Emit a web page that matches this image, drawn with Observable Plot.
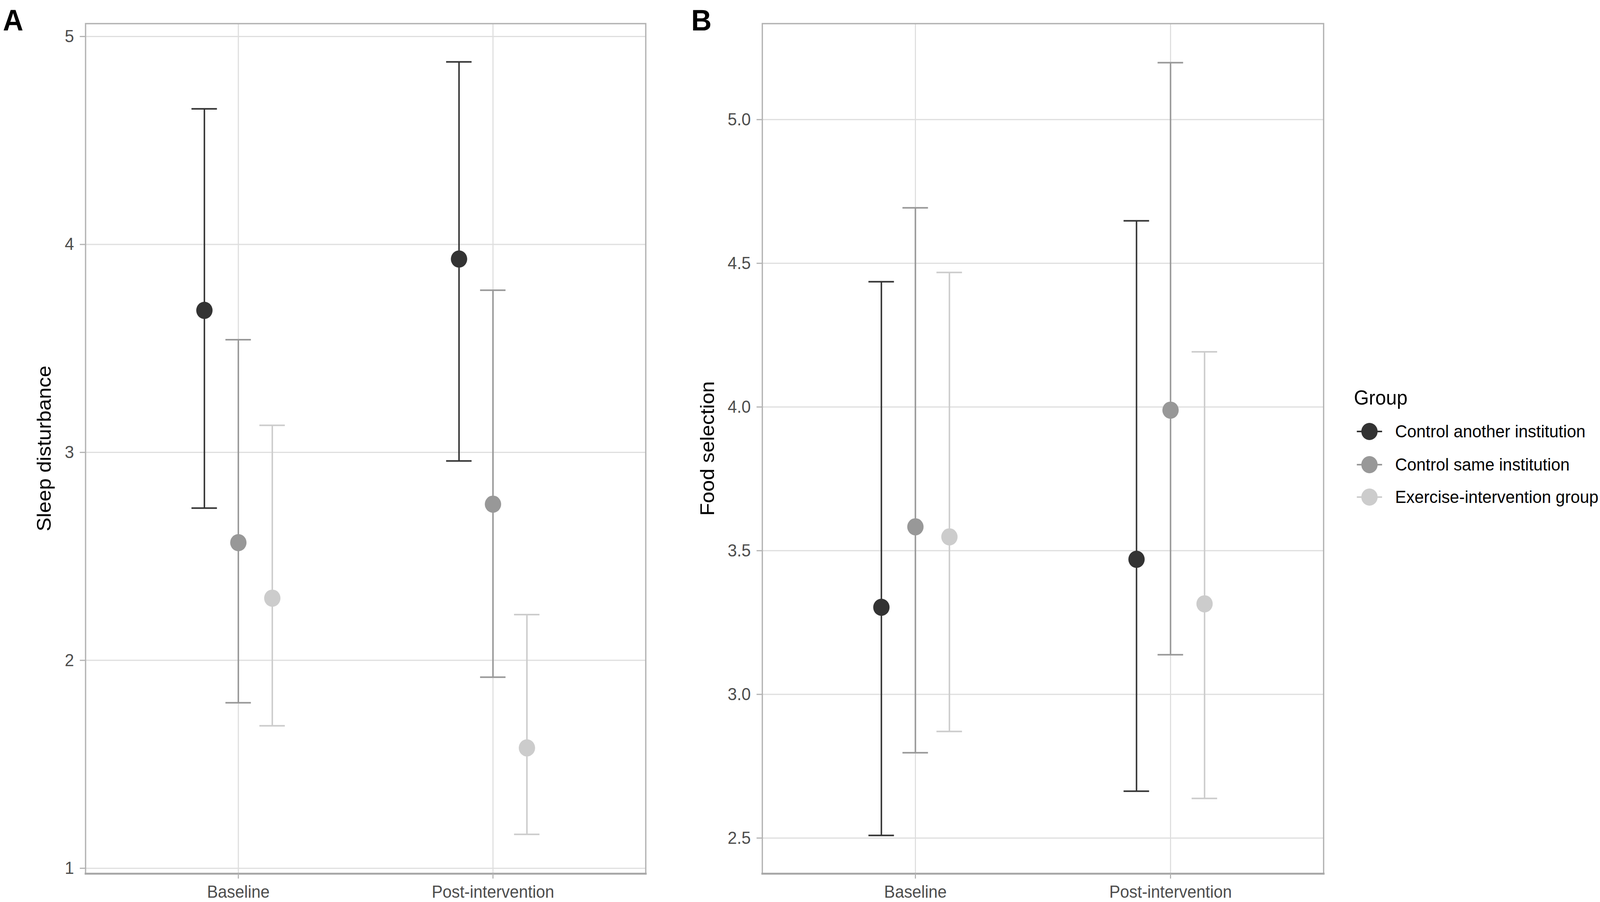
<!DOCTYPE html>
<html>
<head>
<meta charset="utf-8">
<script src="https://cdn.jsdelivr.net/npm/d3@7"></script>
<script src="https://cdn.jsdelivr.net/npm/@observablehq/plot@0.6"></script>
<style>
  html, body { margin: 0; padding: 0; background: #ffffff; overflow: hidden; }
  #root { position: absolute; left: 0; top: 0; width: 4310px; height: 2310px; background: #fff; font-family: "Liberation Sans", Arial, sans-serif; overflow: hidden; transform-origin: 0 0; }
  .abs { position: absolute; }
  .panel-tag { font-weight: bold; font-size: 76px; line-height: 1; color: #000; }
  .ytitle { font-size: 53px; color: #000; white-space: nowrap; transform-origin: center center; }
  .leg-title { font-size: 52px; color: #000; white-space: nowrap; }
  .leg-label { font-size: 45px; color: #000; white-space: nowrap; }
</style>
</head>
<body>
<div id="root"></div>
<script>
// ---------------- data ----------------
const timepoints = ["Baseline", "Post-intervention"];
const groups = ["Control another institution", "Control same institution", "Exercise-intervention group"];

// Panel A: Sleep disturbance  [group][timepoint]
const sleepMean = [[3.683, 3.930], [2.566, 2.751], [2.299, 1.579]];
const sleepLow  = [[2.732, 2.959], [1.796, 1.919], [1.685, 1.163]];
const sleepHigh = [[4.652, 4.878], [3.542, 3.780], [3.130, 2.220]];

// Panel B: Food selection  [group][timepoint]
const foodMean = [[3.303, 3.470], [3.583, 3.989], [3.548, 3.315]];
const foodLow  = [[2.509, 2.663], [2.797, 3.138], [2.871, 2.638]];
const foodHigh = [[4.436, 4.648], [4.693, 5.198], [4.468, 4.192]];

const sleepTicks = [1, 2, 3, 4, 5];
const foodTicks = [2.5, 3.0, 3.5, 4.0, 4.5, 5.0];

// ---------------- styling ----------------
const greys = ["#333333", "#989898", "#cccccc"];
const dodgeWidth = 0.4;
const capHalf = 0.05;

function buildRows(mean, low, high) {
  const rows = [];
  groups.forEach((g, gi) => {
    timepoints.forEach((t, ti) => {
      const x = (ti + 1) + (gi - (groups.length - 1) / 2) * dodgeWidth / groups.length;
      rows.push({group: g, time: t, x, mean: mean[gi][ti], low: low[gi][ti], high: high[gi][ti]});
    });
  });
  return rows;
}

function panel(rows, yDomain, yTicks, yFormat, opts) {
  return Plot.plot({
    width: opts.width,
    height: 2310,
    marginLeft: opts.marginLeft,
    marginRight: opts.marginRight,
    marginTop: 60,
    marginBottom: 73,
    style: {fontFamily: '"Liberation Sans", Arial, sans-serif', fontSize: "45px", color: "#4d4d4d", background: "transparent", maxWidth: "none"},
    x: {domain: [0.4, 2.6], label: null},
    y: {domain: yDomain, label: null},
    color: {domain: groups, range: greys},
    marks: [
      Plot.gridX([1, 2], {stroke: "#dedede", strokeOpacity: 1, strokeWidth: 3}),
      Plot.gridY(yTicks, {stroke: "#dedede", strokeOpacity: 1, strokeWidth: 3}),
      Plot.frame({stroke: "#b3b3b3", strokeWidth: 3.5}),
      Plot.frame({anchor: "bottom", stroke: "#a9a9a9", strokeWidth: 5}),
      Plot.ruleX(rows, {x: "x", y1: "low", y2: "high", stroke: "group", strokeWidth: 4}),
      Plot.ruleY(rows, {y: "low", x1: d => d.x - capHalf, x2: d => d.x + capHalf, stroke: "group", strokeWidth: 4}),
      Plot.ruleY(rows, {y: "high", x1: d => d.x - capHalf, x2: d => d.x + capHalf, stroke: "group", strokeWidth: 4}),
      Plot.dot(rows, {x: "x", y: "mean", fill: "group", r: 22}),
      Plot.axisX([1, 2], {tickFormat: i => timepoints[i - 1], tickSize: 13, tickPadding: 17, stroke: "#b3b3b3", strokeWidth: 3, fill: "#4d4d4d", fontSize: 44, label: null}),
      Plot.axisY(yTicks, {tickFormat: yFormat, tickSize: 15, tickPadding: 16, stroke: "#b3b3b3", strokeWidth: 3, fill: "#4d4d4d", fontSize: 45, label: null})
    ]
  });
}

const root = document.getElementById("root");

const plotA = panel(buildRows(sleepMean, sleepLow, sleepHigh), [0.974, 5.062], sleepTicks, d3.format("d"),
  {width: 1760, marginLeft: 230, marginRight: 21});
plotA.style.position = "absolute"; plotA.style.left = "0px"; plotA.style.top = "0px";
root.appendChild(plotA);

const plotB = panel(buildRows(foodMean, foodLow, foodHigh), [2.376, 5.334], foodTicks, d3.format(".1f"),
  {width: 1800, marginLeft: 253, marginRight: 35});
plotB.style.position = "absolute"; plotB.style.left = "1800px"; plotB.style.top = "0px";
root.appendChild(plotB);

function addDiv(cls, text, css) {
  const d = document.createElement("div");
  d.className = "abs " + cls;
  d.textContent = text;
  Object.assign(d.style, css);
  root.appendChild(d);
  return d;
}

addDiv("panel-tag", "A", {left: "8px", top: "14px"});
addDiv("panel-tag", "B", {left: "1862px", top: "14px"});

function yTitle(text, cx, cy) {
  const d = addDiv("ytitle", text, {left: "0px", top: "0px"});
  const w = d.offsetWidth, h = d.offsetHeight;
  d.style.left = (cx - w / 2) + "px";
  d.style.top = (cy - h / 2) + "px";
  d.style.transform = "rotate(-90deg)";
}
yTitle("Sleep disturbance", 118, 1148);
yTitle("Food selection", 1905, 1148);

addDiv("leg-title", "Group", {left: "3647px", top: "988px"});
const legY = [1105, 1190, 1273];
const legSvg = d3.create("svg").attr("width", 140).attr("height", 400)
  .style("position", "absolute").style("left", "3620px").style("top", "1000px");
groups.forEach((g, i) => {
  const cy = legY[i] - 1000;
  legSvg.append("line").attr("x1", 35).attr("x2", 103).attr("y1", cy).attr("y2", cy)
    .attr("stroke", greys[i]).attr("stroke-width", 4);
  legSvg.append("circle").attr("cx", 69).attr("cy", cy).attr("r", 22).attr("fill", greys[i]);
  const lab = addDiv("leg-label", g, {left: "3758px", top: "0px"});
  lab.style.top = (legY[i] - lab.offsetHeight / 2) + "px";
});
root.appendChild(legSvg.node());

// fit the 4310x2310 design into the actual viewport
function fit() {
  const sx = Math.min(1, window.innerWidth / 4310);
  const sy = Math.min(1, window.innerHeight / 2310);
  root.style.transform = `scale(${sx}, ${sy})`;
}
fit();
window.addEventListener("resize", fit);
</script>
</body>
</html>
